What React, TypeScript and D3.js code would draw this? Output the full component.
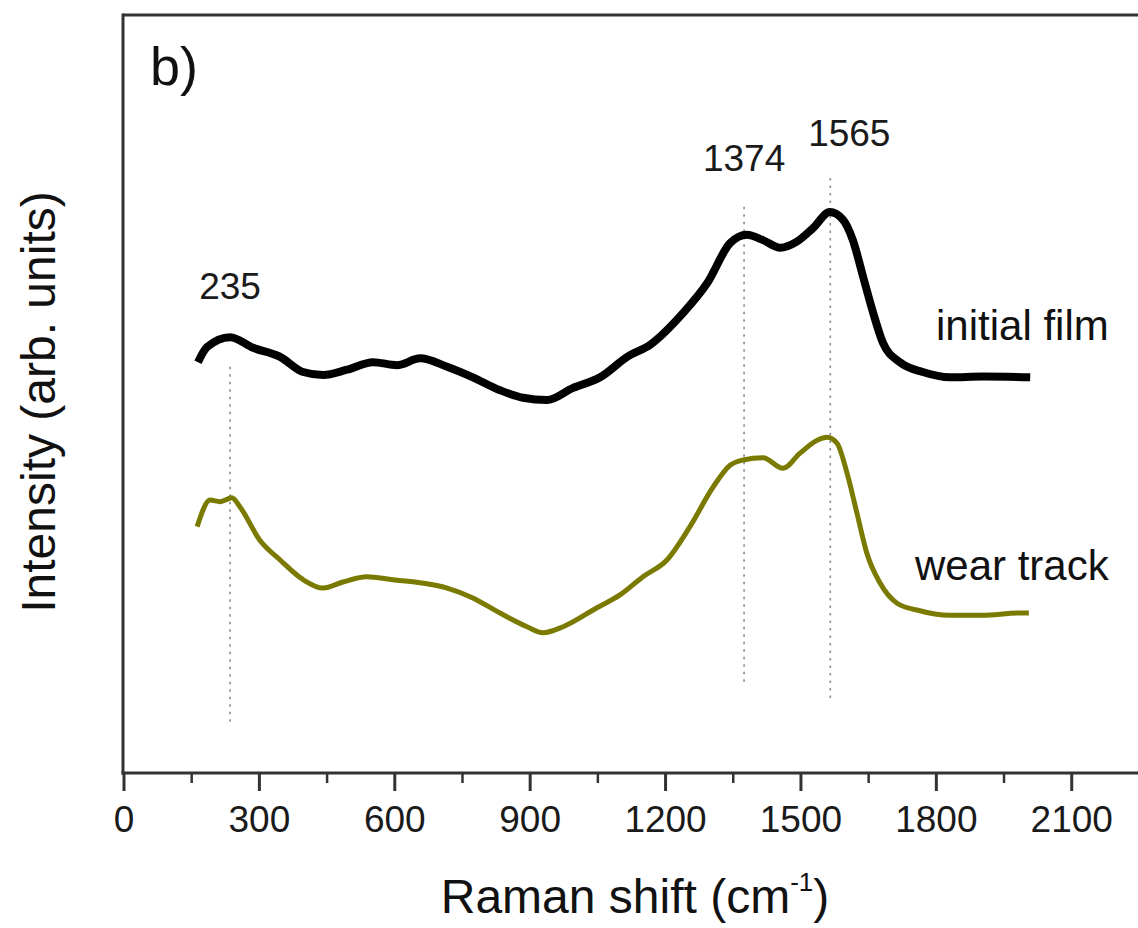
import React from "react";
import * as d3 from "d3";

// Raman shift (cm-1) sample positions and intensities (arb. units)
const filmShift = [164, 184, 235, 286, 346, 397, 441, 494, 552, 605, 656, 716, 773, 833, 884, 937, 995, 1055, 1115, 1166, 1239, 1292, 1343, 1380, 1416, 1454, 1491, 1527, 1564, 1593, 1615, 1638, 1660, 1682, 1719, 1770, 1830, 1903, 2008];
const filmIntensity = [54.2, 56.2, 57.5, 56.1, 54.9, 52.9, 52.5, 53.2, 54.2, 53.8, 54.7, 53.6, 52.2, 50.5, 49.5, 49.2, 50.8, 52.2, 54.9, 56.5, 60.7, 64.6, 69.9, 71.0, 70.3, 69.3, 70.1, 71.9, 74.0, 73.0, 70.3, 65.4, 60.7, 56.7, 54.2, 52.9, 52.2, 52.3, 52.2];

const wearShift = [162, 191, 213, 239, 257, 301, 346, 397, 441, 485, 538, 596, 656, 716, 773, 833, 893, 928, 973, 1048, 1099, 1150, 1203, 1254, 1305, 1343, 1372, 1416, 1460, 1498, 1536, 1558, 1580, 1602, 1624, 1646, 1675, 1713, 1757, 1830, 1903, 1981, 2005];
const wearIntensity = [32.5, 36.0, 35.8, 36.3, 35.1, 30.7, 28.1, 25.5, 24.4, 25.2, 25.9, 25.5, 25.1, 24.4, 23.1, 21.1, 19.3, 18.5, 19.3, 21.8, 23.5, 25.9, 28.1, 32.5, 37.7, 40.6, 41.3, 41.6, 40.2, 42.2, 43.9, 44.3, 43.5, 39.6, 34.3, 29.0, 25.1, 22.4, 21.5, 20.8, 20.8, 21.1, 21.1];

const seriesNames = ["initial film", "wear track"];

const majorTicks = [0, 300, 600, 900, 1200, 1500, 1800, 2100];
const minorTicks = [150, 450, 750, 1050, 1350, 1650, 1950, 2250];

const peakPositions = [235, 1374, 1565];
const peakLabels = ["235", "1374", "1565"];
const peakLineTop = [53.6, 74.7, 78.5];
const peakLineBottom = [6.7, 11.6, 9.4];

const panelLabel = "b)";
const xTitle = "Raman shift (cm";
const xTitleSup = "-1";
const yTitle = "Intensity (arb. units)";

const W = 1138;
const H = 928;
const FONT = "'Liberation Sans', Arial, Helvetica, sans-serif";

export default function App() {
  const x = d3.scaleLinear().domain([0, 2100]).range([124, 124 + 2100 * 0.4513]);
  const y = d3.scaleLinear().domain([0, 100]).range([773, 15]);

  const line = d3
    .line<[number, number]>()
    .x((d) => x(d[0]))
    .y((d) => y(d[1]))
    .curve(d3.curveMonotoneX);

  const film = filmShift.map((s, i) => [s, filmIntensity[i]] as [number, number]);
  const wear = wearShift.map((s, i) => [s, wearIntensity[i]] as [number, number]);

  const axisY = y(0);
  const left = x(0) - 1;
  const top = y(100);
  const labelOffsets = [0, 0, 19];

  return (
    <>
      <style>{`body{margin:0;background:#fff}`}</style>
      <svg width={W} height={H} style={{ display: "block", background: "#fff" }} fontFamily={FONT}>
        {/* frame */}
        <line x1={left} y1={top} x2={W + 5} y2={top} stroke="#333" strokeWidth={3} />
        <line x1={left} y1={top - 1.5} x2={left} y2={axisY + 1.5} stroke="#333" strokeWidth={3} />
        <line x1={left - 1.5} y1={axisY} x2={W + 5} y2={axisY} stroke="#333" strokeWidth={3} />

        {/* ticks */}
        {majorTicks.map((t) => (
          <line key={"M" + t} x1={x(t)} x2={x(t)} y1={axisY} y2={axisY + 18} stroke="#333" strokeWidth={3} />
        ))}
        {minorTicks.map((t) => (
          <line key={"m" + t} x1={x(t)} x2={x(t)} y1={axisY} y2={axisY + 10} stroke="#333" strokeWidth={2.5} />
        ))}
        {majorTicks.map((t) => (
          <text key={"L" + t} x={x(t)} y={832} fontSize={37} textAnchor="middle" fill="#1a1a1a">
            {t}
          </text>
        ))}

        {/* peak guide lines */}
        {peakPositions.map((p, i) => (
          <line
            key={"p" + p}
            x1={x(p)}
            x2={x(p)}
            y1={y(peakLineTop[i])}
            y2={y(peakLineBottom[i])}
            stroke="#8a8a95"
            strokeWidth={1.6}
            strokeDasharray="2.5 5"
          />
        ))}

        {/* spectra */}
        <path d={line(wear) || ""} fill="none" stroke="#7a7a00" strokeWidth={5} strokeLinejoin="round" />
        <path d={line(film) || ""} fill="none" stroke="#000" strokeWidth={8} strokeLinejoin="round" />

        {/* peak labels */}
        <text x={x(peakPositions[0]) + labelOffsets[0]} y={299} fontSize={37} textAnchor="middle" fill="#1a1a1a">
          {peakLabels[0]}
        </text>
        <text x={x(peakPositions[1]) + labelOffsets[1]} y={171} fontSize={37} textAnchor="middle" fill="#1a1a1a">
          {peakLabels[1]}
        </text>
        <text x={x(peakPositions[2]) + labelOffsets[2]} y={146} fontSize={37} textAnchor="middle" fill="#1a1a1a">
          {peakLabels[2]}
        </text>

        {/* series labels */}
        <text x={936} y={340} fontSize={42} fill="#111">
          {seriesNames[0]}
        </text>
        <text x={915} y={580} fontSize={42} fill="#111">
          {seriesNames[1]}
        </text>

        {/* panel label */}
        <text x={150} y={85} fontSize={54} fill="#111">
          {panelLabel}
        </text>

        {/* axis titles */}
        <text x={635} y={913} fontSize={48} textAnchor="middle" fill="#111">
          {xTitle}
          <tspan fontSize={26} dy={-22}>{xTitleSup}</tspan>
          <tspan dy={22}>)</tspan>
        </text>
        <text transform="translate(55,402) rotate(-90)" fontSize={48} textAnchor="middle" fill="#111">
          {yTitle}
        </text>
      </svg>
    </>
  );
}
